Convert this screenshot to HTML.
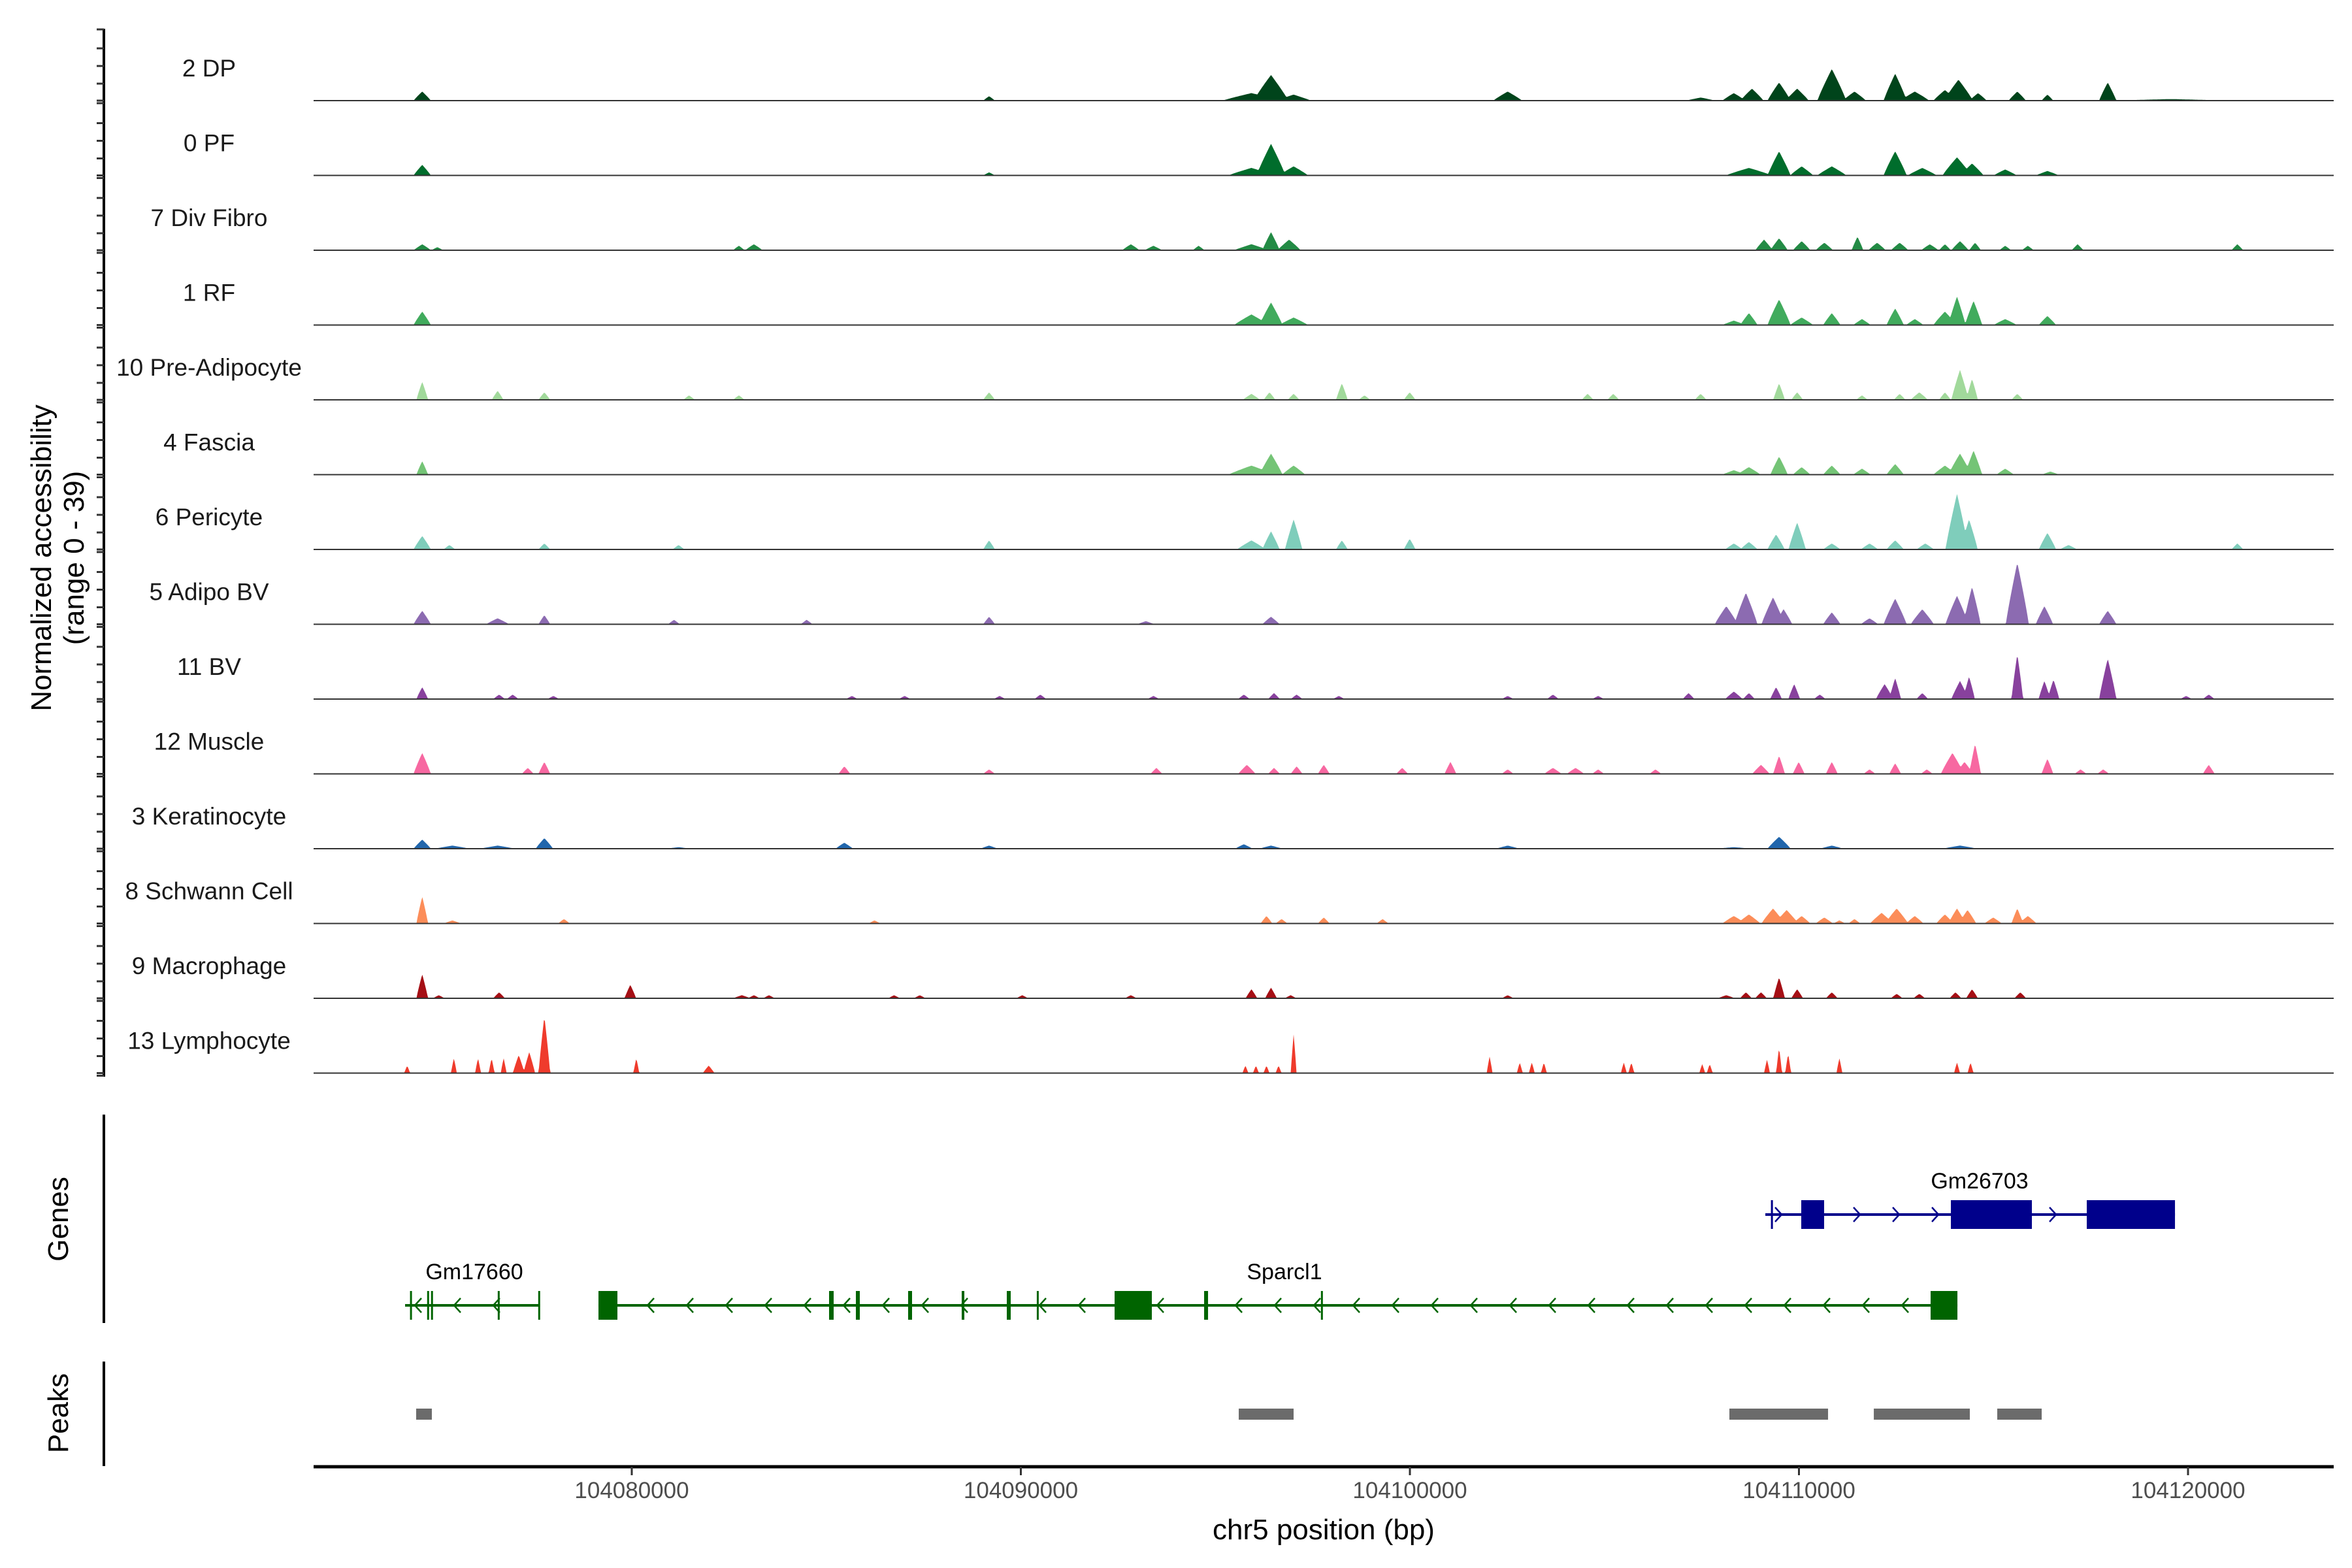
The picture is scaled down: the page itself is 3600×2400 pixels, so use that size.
<!DOCTYPE html>
<html><head><meta charset="utf-8">
<style>
html,body{margin:0;padding:0;background:#fff;}
svg{display:block;font-family:"Liberation Sans",Arial,sans-serif;}
</style></head>
<body>
<svg id="chart" width="3600" height="2400" viewBox="0 0 3600 2400" xmlns="http://www.w3.org/2000/svg">
<rect width="3600" height="2400" fill="#fff"/>
<g id="tracks"></g>
<g id="genes"></g>
<g id="peaks"></g>
<g id="axes"></g>
<text transform="translate(78,854) rotate(-90)" text-anchor="middle" font-size="44" fill="#000">Normalized accessibility</text>
<text transform="translate(128,854) rotate(-90)" text-anchor="middle" font-size="44" fill="#000">(range 0 - 39)</text>
<text transform="translate(104,1866) rotate(-90)" text-anchor="middle" font-size="44" fill="#000">Genes</text>
<text transform="translate(104,2163) rotate(-90)" text-anchor="middle" font-size="44" fill="#000">Peaks</text>
<text x="2026" y="2356" text-anchor="middle" font-size="44" fill="#000">chr5 position (bp)</text>
</svg>
<script>
const trackNames = ["2 DP","0 PF","7 Div Fibro","1 RF","10 Pre-Adipocyte","4 Fascia","6 Pericyte","5 Adipo BV","11 BV","12 Muscle","3 Keratinocyte","8 Schwann Cell","9 Macrophage","13 Lymphocyte"];
const trackColors = ["#00441b","#006d2c","#238b45","#41ab5d","#a1d99b","#74c476","#7fcdbb","#8c6bb1","#88419d","#f768a1","#2166ac","#fc8d59","#a50f15","#ef3b2c"];
const xTicks = [104080000,104090000,104100000,104110000,104120000];
const xTickLabels = ["104080000","104090000","104100000","104110000","104120000"];
const yMax = 39;
// peaks: [position bp, height (normalized), half-width bp]
const peaks_dp = [[104074614,4.7,116],[104089184,2.3,78],[104095927,3.9,388],[104096430,13.3,233],[104097012,3.1,233],[104102514,4.7,194],[104107474,1.6,194],[104108327,3.9,155],[104108792,6.2,155],[104109489,9.4,155],[104109954,6.2,155],[104110845,16.4,194],[104111427,4.7,155],[104112473,14,155],[104112977,4.7,194],[104113752,5.5,155],[104114100,10.9,194],[104114604,3.9,116],[104115612,4.7,116],[104116387,3.1,78],[104117937,9.4,116],[104119564,0.8,775]];
const peaks_pf = [[104074614,5.5,116],[104089184,1.6,78],[104095927,3.9,310],[104096430,16.4,194],[104097012,4.7,194],[104108714,3.9,310],[104109489,12.5,155],[104110070,4.7,155],[104110845,4.7,194],[104112473,12.5,155],[104113170,3.9,194],[104114062,9.4,194],[104114449,6.2,155],[104115302,3.1,155],[104116387,2.3,155]];
const peaks_div = [[104074614,3.1,116],[104075002,1.6,78],[104082752,2.3,78],[104083139,3.1,116],[104092827,3.1,116],[104093408,2.3,116],[104094570,2.3,78],[104095927,3.1,233],[104096430,9.4,116],[104096895,5.5,155],[104109102,5.5,116],[104109489,6.2,116],[104110070,4.7,116],[104110652,3.9,116],[104111504,7,78],[104112008,3.9,116],[104112589,3.9,116],[104113364,3.1,116],[104113752,3.1,78],[104114139,4.7,116],[104114527,3.9,78],[104115302,2.3,78],[104115883,2.3,78],[104117162,3.1,78],[104121269,3.1,78]];
const peaks_rf = [[104074614,7,116],[104095927,5.5,233],[104096430,11.7,155],[104097012,3.9,194],[104108327,2.3,155],[104108714,6.2,116],[104109489,13.3,155],[104110070,3.9,155],[104110845,6.2,116],[104111620,3.1,116],[104112473,8.6,116],[104112977,3.1,116],[104113752,7,155],[104114062,14.8,116],[104114488,12.5,116],[104115302,3.1,155],[104116387,4.7,116]];
const peaks_pre = [[104074614,9.4,78],[104076552,4.7,78],[104077753,3.9,78],[104081473,2.3,78],[104082752,2.3,78],[104089184,3.9,78],[104095927,3.1,116],[104096392,3.9,78],[104097012,3.1,78],[104098252,8.6,78],[104098833,2.3,78],[104099995,3.9,78],[104104568,3.1,78],[104105227,3.1,78],[104107474,3.1,78],[104109489,8.6,78],[104109954,3.9,78],[104111620,2.3,78],[104112589,3.1,78],[104113093,3.9,116],[104113752,3.9,78],[104114139,15.6,116],[104114449,10.9,78],[104115612,3.1,78]];
const peaks_fas = [[104074614,7,78],[104095927,4.7,310],[104096430,10.9,155],[104097012,4.7,155],[104108327,2.3,155],[104108714,3.9,155],[104109489,9.4,116],[104110070,3.9,116],[104110845,4.7,116],[104111620,3.1,116],[104112473,5.5,116],[104113752,4.7,155],[104114139,10.9,155],[104114488,12.5,116],[104115302,3.1,116],[104116464,1.6,116]];
const peaks_per = [[104074614,7,116],[104075312,2.3,78],[104077753,3.1,78],[104081202,2.3,78],[104089184,4.7,78],[104095927,4.7,194],[104096430,9.4,116],[104097012,15.6,116],[104098252,4.7,78],[104099995,5.5,78],[104108327,3.1,116],[104108714,3.9,116],[104109412,7.8,116],[104109954,14,116],[104110845,3.1,116],[104111814,3.1,116],[104112473,4.7,116],[104113248,3.1,116],[104114062,28.9,155],[104114372,15.6,116],[104116387,8.6,116],[104116929,2.3,116],[104121269,3.1,78]];
const peaks_abv = [[104074614,7,116],[104076552,3.1,155],[104077753,4.7,78],[104081085,2.3,78],[104084495,2.3,78],[104089184,3.9,78],[104093214,1.6,116],[104096430,3.9,116],[104108133,9.4,155],[104108637,16.4,155],[104109334,14,155],[104109605,7.8,116],[104110845,6.2,116],[104111814,3.1,116],[104112473,13.3,155],[104113170,7.8,155],[104114062,14.8,155],[104114449,19.5,116],[104115612,32,155],[104116309,9.4,116],[104117937,7,116]];
const peaks_bv = [[104074614,6.2,78],[104076590,2.3,78],[104076939,2.3,78],[104077985,1.6,78],[104085658,1.6,78],[104087014,1.6,78],[104089455,1.6,78],[104090502,2.3,78],[104093408,1.6,78],[104095733,2.3,78],[104096508,3.1,78],[104097089,2.3,78],[104098174,1.6,78],[104102514,1.6,78],[104103677,2.3,78],[104104839,1.6,78],[104107164,3.1,78],[104108327,3.9,116],[104108714,3.1,78],[104109412,6.2,78],[104109877,7.8,78],[104110535,2.3,78],[104112202,7.8,116],[104112473,10.9,78],[104113170,3.1,78],[104114139,9.4,116],[104114372,11.7,78],[104115612,23.4,78],[104116309,9.4,78],[104116542,10.1,78],[104117937,21,116],[104119952,1.6,78],[104120533,2.3,78]];
const peaks_mus = [[104074614,10.9,116],[104077327,3.1,78],[104077753,6.2,78],[104085464,3.9,78],[104089184,2.3,78],[104093485,3.1,78],[104095810,4.7,116],[104096508,3.1,78],[104097089,3.9,78],[104097787,4.7,78],[104099802,3.1,78],[104101042,6.2,78],[104102514,2.3,78],[104103677,3.1,116],[104104258,3.1,116],[104104839,2.3,78],[104106312,2.3,78],[104109024,4.7,116],[104109489,9.4,78],[104109993,6.2,78],[104110845,6.2,78],[104111814,2.3,78],[104112473,5.5,78],[104113287,2.3,78],[104113945,10.9,155],[104114255,6.2,116],[104114527,15.6,78],[104116387,7.8,78],[104117239,2.3,78],[104117820,2.3,78],[104120533,4.7,78]];
const peaks_ker = [[104074614,4.7,116],[104075389,1.6,233],[104076552,1.6,233],[104077753,5.5,116],[104081202,0.8,155],[104085464,3.1,116],[104089184,1.6,116],[104095733,2.3,116],[104096430,1.6,155],[104102514,1.6,155],[104108327,0.8,233],[104109489,6.2,155],[104110845,1.6,155],[104114139,1.6,233]];
const peaks_sch = [[104074614,14,78],[104075389,1.6,116],[104078257,2.3,78],[104086239,1.6,78],[104096314,3.9,78],[104096702,2.3,78],[104097787,3.1,78],[104099298,2.3,78],[104108327,3.9,155],[104108714,4.7,155],[104109334,7.8,155],[104109683,7,155],[104110070,3.9,116],[104110652,3.1,116],[104111039,1.6,78],[104111427,2.3,78],[104112124,5.5,155],[104112512,7.8,155],[104112977,3.9,116],[104113752,4.7,116],[104114062,7.8,116],[104114333,7,116],[104114992,3.1,116],[104115612,7.8,78],[104115883,3.9,116]];
const peaks_mac = [[104074614,12.5,78],[104075040,1.6,78],[104076590,3.1,78],[104079962,7,78],[104082829,1.6,116],[104083139,1.6,78],[104083527,1.6,78],[104086743,1.6,78],[104087402,1.6,78],[104090037,1.6,78],[104092827,1.6,78],[104095927,4.7,78],[104096430,5.5,78],[104096934,1.6,78],[104102514,1.6,78],[104108133,1.6,116],[104108637,3.1,78],[104109024,3.1,78],[104109489,10.9,78],[104109954,4.7,78],[104110845,3.1,78],[104112512,2.3,78],[104113093,2.3,78],[104114023,3.1,78],[104114449,4.7,78],[104115689,3.1,78]];
const peaks_lym = [[104074227,3.9,39],[104075428,7.8,39],[104076048,7.8,39],[104076397,7.8,39],[104076707,7.8,39],[104077094,9.4,78],[104077365,10.9,78],[104077753,29.6,78],[104080117,7.8,39],[104081977,3.9,78],[104095772,3.9,39],[104096043,3.9,39],[104096314,3.9,39],[104096624,3.9,39],[104097012,20.3,39],[104102049,8.6,39],[104102824,5.5,39],[104103134,5.5,39],[104103444,5.5,39],[104105498,5.5,39],[104105692,5.5,39],[104107513,4.7,39],[104107707,4.7,39],[104109179,7,39],[104109489,13.3,39],[104109722,10.1,39],[104111039,7.8,39],[104114062,5.5,39],[104114410,5.5,39]];
const allPeaks = [peaks_dp,peaks_pf,peaks_div,peaks_rf,peaks_pre,peaks_fas,peaks_per,peaks_abv,peaks_bv,peaks_mus,peaks_ker,peaks_sch,peaks_mac,peaks_lym];
const geneNames = ["Gm26703","Gm17660","Sparcl1"];
const gm26703Span = [104109136,104119665];
const gm26703Exons = [[104109280,104109330],[104110059,104110647],[104113905,104115987],[104117398,104119665]];
const gm17660Span = [104074173,104077615];
const gm17660Exons = [[104074300,104074340],[104074740,104074780],[104074840,104074880],[104076555,104076595],[104077595,104077635]];
const sparcl1Span = [104079144,104114073];
const sparcl1Exons = [[104079144,104079631],[104085071,104085189],[104085760,104085861],[104087103,104087204],[104088480,104088548],[104089639,104089740],[104090410,104090450],[104092410,104093367],[104094711,104094812],[104097713,104097753],[104113384,104114073]];
const peakRegions = [[104074458,104074861],[104095601,104097011],[104108212,104110748],[104111924,104114392],[104115097,104116239]];

const NS="http://www.w3.org/2000/svg";
const X0=480, X1=3572;
function xs(bp){ return 967 + (bp-104080000)*0.05955; }
const trackH = 115;
function base(i){ return 154 + i*114.5; }
function ys(v,i){ return base(i) - v*trackH/yMax; }
function mk(tag, attrs, parent){ const e=document.createElementNS(NS,tag); for(const k in attrs) e.setAttribute(k,attrs[k]); parent.appendChild(e); return e; }

const gT=document.getElementById('tracks');
allPeaks.forEach((pk,i)=>{
  const g=mk('g',{},gT);
  
  
  const lbl=mk('text',{x:320,y:base(i)-37,'text-anchor':'middle','font-size':37,fill:'#1a1a1a'},g);
  lbl.textContent=trackNames[i];
  
  
  let d='M'+X0+','+base(i);
  for(let x=X0;x<=X1;x+=1.5){
    let v=0;
    for(const p of pk){
      const pw=Math.max(4,p[2]*0.05955*1.9); const dx=Math.abs(x-xs(p[0]));
      if(dx<pw){ const t=1-dx/pw; const val=p[1]*Math.pow(t,0.9); if(val>v) v=val; }
    }
    d+=' L'+x.toFixed(1)+','+ys(v,i).toFixed(1);
  }
  d+=' L'+X1+','+base(i)+' Z';
  const a=mk('path',{d:d,fill:trackColors[i],stroke:'none'},g);
  
  
  const bl=mk('line',{x1:X0,x2:X1,y1:base(i),y2:base(i),stroke:'#333',"stroke-width":2},g);
  
  
});

const gA=document.getElementById('axes');
let l=mk('line',{x1:159,x2:159,y1:44,y2:1648,stroke:'#000','stroke-width':4},gA);


for(let i=0;i<14;i++){
  const offs = i===0 ? [-109,-80,-53,-26,0,4] : [-80,-53,-26,0,4];
  offs.forEach(o=>{ const t=mk('line',{x1:148,x2:159,y1:base(i)+o,y2:base(i)+o,stroke:'#333','stroke-width':3},gA);
    
     });
}
l=mk('line',{x1:159,x2:159,y1:1706,y2:2025,stroke:'#000','stroke-width':4},gA);


l=mk('line',{x1:159,x2:159,y1:2084,y2:2244,stroke:'#000','stroke-width':4},gA);


l=mk('line',{x1:X0,x2:X1,y1:2245,y2:2245,stroke:'#000','stroke-width':5},gA);


xTicks.forEach((t,k)=>{
  const tk=mk('line',{x1:xs(t),x2:xs(t),y1:2245,y2:2258,stroke:'#333','stroke-width':3},gA);
  
  
  const tl=mk('text',{x:xs(t),y:2293,'text-anchor':'middle','font-size':35,fill:'#4d4d4d'},gA);
  tl.textContent=xTickLabels[k];
  
  
});

const gG=document.getElementById('genes');
function drawGene(name, span, exons, y, color, dir, lx){
  const g=mk('g',{},gG);
  
  
  mk('line',{x1:xs(span[0]),x2:xs(span[1]),y1:y,y2:y,stroke:color,'stroke-width':4},g);
  const a0=xs(span[0]), a1=xs(span[1]);
  for(let x=a0+20;x<a1-10;x+=60){
    const inEx=exons.some(e=>x>xs(e[0])-10 && x<xs(e[1])+10 && (xs(e[1])-xs(e[0]))>6);
    if(inEx) continue;
    const p = dir>0 ? `M${x-5},${y-11} L${x+5},${y} L${x-5},${y+11}` : `M${x+5},${y-11} L${x-5},${y} L${x+5},${y+11}`;
    mk('path',{d:p,fill:'none',stroke:color,'stroke-width':2.5},g);
  }
  exons.forEach(e=>{
    const w=Math.max(3,xs(e[1])-xs(e[0]));
    const r=mk('rect',{x:xs(e[0]),y:y-22,width:w,height:44,fill:color},g);
    
    
  });
  const t=mk('text',{x:lx,y:y-40,'text-anchor':'middle','font-size':34,fill:'#000'},g);
  t.textContent=name;
  
  
}
drawGene(geneNames[0],gm26703Span,gm26703Exons,1859,'#00008b',1,3030);
drawGene(geneNames[1],gm17660Span,gm17660Exons,1998,'#006400',-1,726);
drawGene(geneNames[2],sparcl1Span,sparcl1Exons,1998,'#006400',-1,1966);

const gP=document.getElementById('peaks');
peakRegions.forEach(p=>{
  const r=mk('rect',{x:xs(p[0]),y:2156,width:xs(p[1])-xs(p[0]),height:17,fill:'#6b6b6b'},gP);
  
  
});
</script>
</body></html>
